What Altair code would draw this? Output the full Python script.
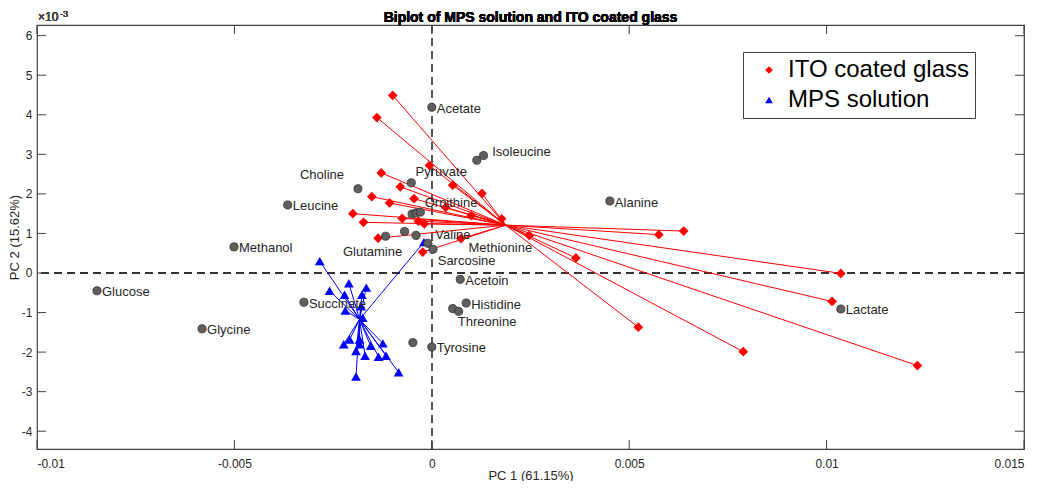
import altair as alt
import pandas as pd

FONT = "Liberation Sans"

# ---- scores: ITO coated glass (PC1, PC2 in units of 1e-3) ----
ito_pc1 = [-0.00099, -0.00139, -0.00006, -0.00128, -0.00080, 0.00053, 0.00127,
           -0.00152, -0.00045, -0.00107, -0.00200, -0.00075, -0.00173, -0.00034,
           -0.00019, -0.00136, 0.00074, 0.00177, 0.00100, 0.00035, -0.00023,
           0.00247, 0.00365, 0.00575, 0.00638, 0.01036, 0.01014, 0.00523,
           0.00789, 0.01230]
ito_pc2 = [4.49, 3.93, 2.72, 2.53, 2.18, 2.22, 2.01,
           1.93, 1.88, 1.77, 1.50, 1.38, 1.28, 1.31,
           1.24, 0.88, 0.87, 1.37, 1.45, 1.66, 0.53,
           0.95, 0.38, 0.97, 1.06, -0.01, -0.72, -1.37,
           -1.99, -2.34]
ito_center = [0.00187, 1.21]

# ---- scores: MPS solution ----
mps_pc1 = [-0.00284, -0.00259, -0.00210, -0.00166, -0.00221, -0.00177, -0.00219,
           -0.00179, -0.00175, -0.00020, -0.00208, -0.00223, -0.00183, -0.00183,
           -0.00155, -0.00124, -0.00192, -0.00169, -0.00135, -0.00116, -0.00192,
           -0.00084]
mps_pc2 = [0.30, -0.45, -0.26, -0.37, -0.55, -0.55, -0.95,
           -0.84, -1.13, 0.78, -1.68, -1.80, -1.68, -1.80,
           -1.84, -1.78, -1.97, -2.09, -2.12, -2.09, -2.62,
           -2.51]
mps_center = [-0.00183, -1.175]

# ---- loadings: metabolites ----
met_pc1 = [0.0, 0.00114, 0.00131, -0.00187, -0.00052, -0.00365, -0.00050, -0.00040,
           -0.00029, 0.00451, -0.00069, -0.00040, -0.00117, -0.00010, 0.00003,
           0.00072, 0.00087, 0.00053, 0.00068, 0.0, -0.00048, -0.00324, -0.00501,
           -0.00848, -0.00582, 0.01036]
met_pc2 = [4.19, 2.85, 2.97, 2.13, 2.28, 1.72, 1.49, 1.52,
           1.54, 1.82, 1.05, 0.95, 0.93, 0.75, 0.60,
           -0.16, -0.76, -0.90, -0.97, -1.87, -1.76, -0.74, 0.66,
           -0.45, -1.41, -0.91]

# labels placed right next to their point
near_text = ["Acetate", "Leucine", "Alanine", "Acetoin", "Histidine", "Tyrosine",
             "Succinate", "Methanol", "Glucose", "Glycine", "Lactate"]
near_pc1 = [0.0, -0.00365, 0.00451, 0.00072, 0.00087, 0.0,
            -0.00324, -0.00501, -0.00848, -0.00582, 0.01036]
near_pc2 = [4.19, 1.72, 1.82, -0.16, -0.76, -1.87,
            -0.74, 0.66, -0.45, -1.41, -0.91]

# labels placed freely (left edge of text)
free_text = ["Isoleucine", "Choline", "Pyruvate", "Ornithine", "Valine",
             "Glutamine", "Methionine", "Sarcosine", "Threonine"]
free_pc1 = [0.00153, -0.00334, -0.00041, -0.00018, 0.00009,
            -0.00225, 0.00093, 0.00015, 0.00066]
free_pc2 = [3.07, 2.49, 2.55, 1.78, 0.95,
            0.53, 0.63, 0.30, -1.24]

x_ticks = [-0.01, -0.005, 0, 0.005, 0.01, 0.015]
y_ticks = [-4, -3, -2, -1, 0, 1, 2, 3, 4, 5, 6]

groups = ["ITO coated glass", "MPS solution"]
group_colors = ["#ff0000", "#0000ff"]
group_shapes = ["diamond", "triangle-up"]

title_text = "Biplot of MPS solution and ITO coated glass"

W, H = 987, 424

ito = pd.DataFrame({"pc1": ito_pc1, "pc2": ito_pc2, "group": groups[0],
                    "c1": ito_center[0], "c2": ito_center[1]})
mps = pd.DataFrame({"pc1": mps_pc1, "pc2": mps_pc2, "group": groups[1],
                    "c1": mps_center[0], "c2": mps_center[1]})
scores = pd.concat([ito, mps], ignore_index=True)
mets = pd.DataFrame({"pc1": met_pc1, "pc2": met_pc2})
near = pd.DataFrame({"pc1": near_pc1, "pc2": near_pc2, "t": near_text})
free = pd.DataFrame({"pc1": free_pc1, "pc2": free_pc2, "t": free_text})
xt = pd.DataFrame({"pc1": x_ticks})
yt = pd.DataFrame({"pc2": y_ticks})

minus_fix = "replace(format(datum.value, '~g'), '\u2212', '-')"

xs = alt.Scale(domain=[-0.01, 0.015], nice=False, zero=False)
ys = alt.Scale(domain=[-4.45, 6.27], nice=False, zero=False)
xaxis = alt.Axis(values=x_ticks, labelExpr=minus_fix, ticks=False, grid=False,
                 domain=False, labelPadding=9, title="PC 1 (61.15%)",
                 titleX=W / 2, titleY=30, titleBaseline="alphabetic", titleAlign="center")
yaxis = alt.Axis(values=y_ticks, labelExpr=minus_fix, ticks=False, grid=False,
                 domain=False, labelPadding=5, title="PC 2 (15.62%)",
                 titleX=-22.5, titleY=H / 2, titleBaseline="middle", titleAlign="center",
                 titleAngle=270)


def X(field="pc1"):
    return alt.X(f"{field}:Q", scale=xs, axis=xaxis)


def Y(field="pc2"):
    return alt.Y(f"{field}:Q", scale=ys, axis=yaxis)


zero_v = alt.Chart(mets).mark_rule(color="#555555", strokeDash=[8, 5], strokeWidth=1.2).encode(
    x=alt.datum(0, scale=xs, axis=xaxis))
zero_h = alt.Chart(mets).mark_rule(color="#333333", strokeDash=[8, 5], strokeWidth=1.2).encode(
    y=alt.datum(0, scale=ys, axis=yaxis))

ito_lines = alt.Chart(ito).mark_rule(color="#ff0000", strokeWidth=1).encode(
    x=X(), y=Y(), x2="c1:Q", y2="c2:Q")
mps_lines = alt.Chart(mps).mark_rule(color="#0000ff", strokeWidth=1).encode(
    x=X(), y=Y(), x2="c1:Q", y2="c2:Q")

leg = alt.Legend(title=None, orient="none", legendX=706, legendY=27)
pts = alt.Chart(scores).mark_point(filled=True, opacity=1, size=95).encode(
    x=X(), y=Y(),
    color=alt.Color("group:N", scale=alt.Scale(domain=groups, range=group_colors), legend=leg),
    shape=alt.Shape("group:N", scale=alt.Scale(domain=groups, range=group_shapes), legend=leg),
)

circles = alt.Chart(mets).mark_point(filled=True, opacity=1, size=66, shape="circle",
                                     color="#5f5f5f", stroke="#303030", strokeWidth=0.8).encode(
    x=X(), y=Y())

near_lab = alt.Chart(near).mark_text(align="left", baseline="middle", dx=5, dy=1.5,
                                     fontSize=13, font=FONT, color="#262626").encode(
    x=X(), y=Y(), text="t:N")
free_lab = alt.Chart(free).mark_text(align="left", baseline="middle",
                                     fontSize=13, font=FONT, color="#262626").encode(
    x=X(), y=Y(), text="t:N")

tick_top = alt.Chart(xt).mark_rule(color="#404040").encode(x=X(), y=alt.value(0), y2=alt.value(9))
tick_bot = alt.Chart(xt).mark_rule(color="#404040").encode(x=X(), y=alt.value(H), y2=alt.value(H - 9))
tick_left = alt.Chart(yt).mark_rule(color="#404040").encode(y=Y(), x=alt.value(0), x2=alt.value(9))
tick_right = alt.Chart(yt).mark_rule(color="#404040").encode(y=Y(), x=alt.value(W - 9), x2=alt.value(W))

exp_base = alt.Chart(xt).mark_text(align="left", baseline="alphabetic", fontSize=12, font=FONT,
                                   color="#404040").encode(x=alt.value(1), y=alt.value(-4),
                                                           text=alt.value("\u00d710"))
exp_sup = alt.Chart(xt).mark_text(align="left", baseline="alphabetic", fontSize=9, font=FONT,
                                  color="#404040").encode(x=alt.value(23), y=alt.value(-8),
                                                          text=alt.value("-3"))
title_mark = alt.Chart(xt).mark_text(align="center", baseline="alphabetic", fontSize=14,
                                     fontWeight="bold", font=FONT, color="#000000").encode(
    x=alt.value(W / 2), y=alt.value(-3), text=alt.value(title_text))

chart = alt.layer(
    zero_v, zero_h, ito_lines, mps_lines, pts, circles, near_lab, free_lab,
    tick_top, tick_bot, tick_left, tick_right, exp_base, exp_sup, title_mark
).properties(
    width=W, height=H,
    autosize=alt.AutoSizeParams(type="none"),
    padding={"left": 29, "top": 17, "right": 20, "bottom": 32},
).configure_view(
    stroke="#404040", strokeWidth=1.2
).configure_axis(
    labelFont=FONT, titleFont=FONT, labelFontSize=12, titleFontSize=13,
    labelColor="#262626", titleColor="#262626", titleFontWeight="normal"
).configure_legend(
    labelFont=FONT, labelFontSize=24, labelColor="#000000", symbolSize=60,
    strokeColor="#404040", fillColor="white", padding=6, rowPadding=6,
    symbolOffset=8, labelOffset=7, symbolStrokeWidth=0, labelLimit=400
)

chart.save("out.html", embed_options={"renderer": "svg", "actions": False})
